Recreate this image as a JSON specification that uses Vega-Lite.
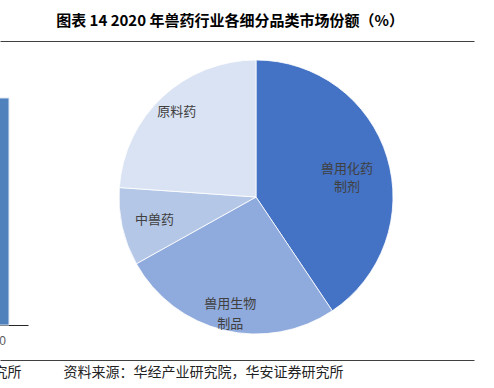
{
  "$schema": "https://vega.github.io/schema/vega-lite/v6.json",
  "width": 474,
  "height": 319,
  "autosize": {"type": "none"},
  "padding": {"left": 0, "right": 20, "top": 41, "bottom": 28},
  "background": "white",
  "config": {"view": {"stroke": null}, "font": "Noto Sans CJK SC"},
  "title": {
    "text": "图表 14 2020 年兽药行业各细分品类市场份额（%）",
    "fontSize": 15,
    "fontWeight": "bold",
    "font": "Noto Sans CJK SC",
    "color": "#000000",
    "anchor": "middle",
    "dx": -7,
    "offset": 12
  },
  "data": {
    "values": [
      {"cat": "兽用化药制剂", "label": "兽用化药\n制剂", "share": 40.6, "rank": 1},
      {"cat": "兽用生物制品", "label": "兽用生物\n制品", "share": 26.3, "rank": 2},
      {"cat": "中兽药", "label": "中兽药", "share": 9.2, "rank": 3},
      {"cat": "原料药", "label": "原料药", "share": 23.9, "rank": 4}
    ]
  },
  "resolve": {
    "scale": {"x": "independent", "y": "independent"},
    "axis": {"x": "independent", "y": "independent"}
  },
  "layer": [
    {
      "data": {"values": [{"year": "2020", "value": 100}]},
      "mark": {"type": "bar", "color": "#4F81BD", "stroke": "#DCE6F2", "strokeWidth": 1},
      "encoding": {
        "x": {
          "field": "year", "type": "nominal",
          "scale": {"range": [-24, 28], "paddingInner": 0, "paddingOuter": 0.288, "align": 0},
          "axis": {
            "orient": "bottom", "offset": -35, "domain": true, "domainColor": "#262626", "domainWidth": 1,
            "ticks": false, "labels": true, "labelAngle": 0, "labelFlush": false,
            "labelFont": "Liberation Sans", "labelFontSize": 12, "labelColor": "#595959", "labelPadding": 10,
            "title": null
          }
        },
        "y": {
          "field": "value", "type": "quantitative",
          "scale": {"domain": [-15.4, 125.1], "nice": false, "zero": false},
          "axis": null
        }
      }
    },
    {
      "data": {"values": [{"year": "2020"}]},
      "mark": {"type": "rule", "opacity": 0},
      "encoding": {
        "x": {
          "field": "year", "type": "nominal",
          "axis": {
            "orient": "top", "domain": true, "domainColor": "#404040", "domainWidth": 1,
            "ticks": false, "labels": false, "title": null
          }
        }
      }
    },
    {
      "data": {"values": [{"year": "2020"}]},
      "mark": {"type": "rule", "opacity": 0},
      "encoding": {
        "x": {
          "field": "year", "type": "nominal",
          "axis": {
            "orient": "bottom", "domain": true, "domainColor": "#404040", "domainWidth": 1,
            "ticks": false, "labels": false,
            "title": "研究所　　　资料来源：华经产业研究院，华安证券研究所",
            "titleAnchor": "start", "titleAlign": "left", "titleBaseline": "middle",
            "titleX": -21, "titleY": 12, "titleFontSize": 14, "titleFontWeight": "normal",
            "titleColor": "#222222", "titleFont": "Noto Sans CJK SC"
          }
        }
      }
    },
    {
      "mark": {"type": "arc", "outerRadius": 137, "stroke": "#ffffff", "strokeWidth": 0.8, "xOffset": 19, "yOffset": -3.5},
      "encoding": {
        "theta": {"field": "share", "type": "quantitative", "stack": true},
        "order": {"field": "rank", "type": "quantitative"},
        "color": {
          "field": "cat", "type": "nominal",
          "scale": {
            "domain": ["兽用化药制剂", "兽用生物制品", "中兽药", "原料药"],
            "range": ["#4472C4", "#8FAADC", "#B4C7E7", "#DAE3F3"]
          },
          "legend": null
        }
      }
    },
    {
      "mark": {"type": "text", "radius": 95, "dx": 19, "dy": -3.5, "fontSize": 13, "color": "#404040", "lineBreak": "\n", "lineHeight": 18, "baseline": "middle"},
      "encoding": {
        "theta": {"field": "share", "type": "quantitative", "stack": true},
        "order": {"field": "rank", "type": "quantitative"},
        "text": {"condition": {"test": "datum.cat === '兽用化药制剂'", "field": "label"}, "value": ""}
      }
    },
    {
      "mark": {"type": "text", "radius": 110, "dx": 19, "dy": -3.5, "fontSize": 13, "color": "#404040", "lineBreak": "\n", "lineHeight": 20, "baseline": "middle"},
      "encoding": {
        "theta": {"field": "share", "type": "quantitative", "stack": true},
        "order": {"field": "rank", "type": "quantitative"},
        "text": {"condition": {"test": "datum.cat === '兽用生物制品'", "field": "label"}, "value": ""}
      }
    },
    {
      "mark": {"type": "text", "radius": 104, "dx": 19, "dy": -3.5, "fontSize": 13, "color": "#404040", "baseline": "middle"},
      "encoding": {
        "theta": {"field": "share", "type": "quantitative", "stack": true},
        "order": {"field": "rank", "type": "quantitative"},
        "text": {"condition": {"test": "datum.cat === '中兽药'", "field": "label"}, "value": ""}
      }
    },
    {
      "mark": {"type": "text", "radius": 116, "dx": 19, "dy": -3.5, "fontSize": 13, "color": "#404040", "baseline": "middle"},
      "encoding": {
        "theta": {"field": "share", "type": "quantitative", "stack": true},
        "order": {"field": "rank", "type": "quantitative"},
        "text": {"condition": {"test": "datum.cat === '原料药'", "field": "label"}, "value": ""}
      }
    }
  ]
}
